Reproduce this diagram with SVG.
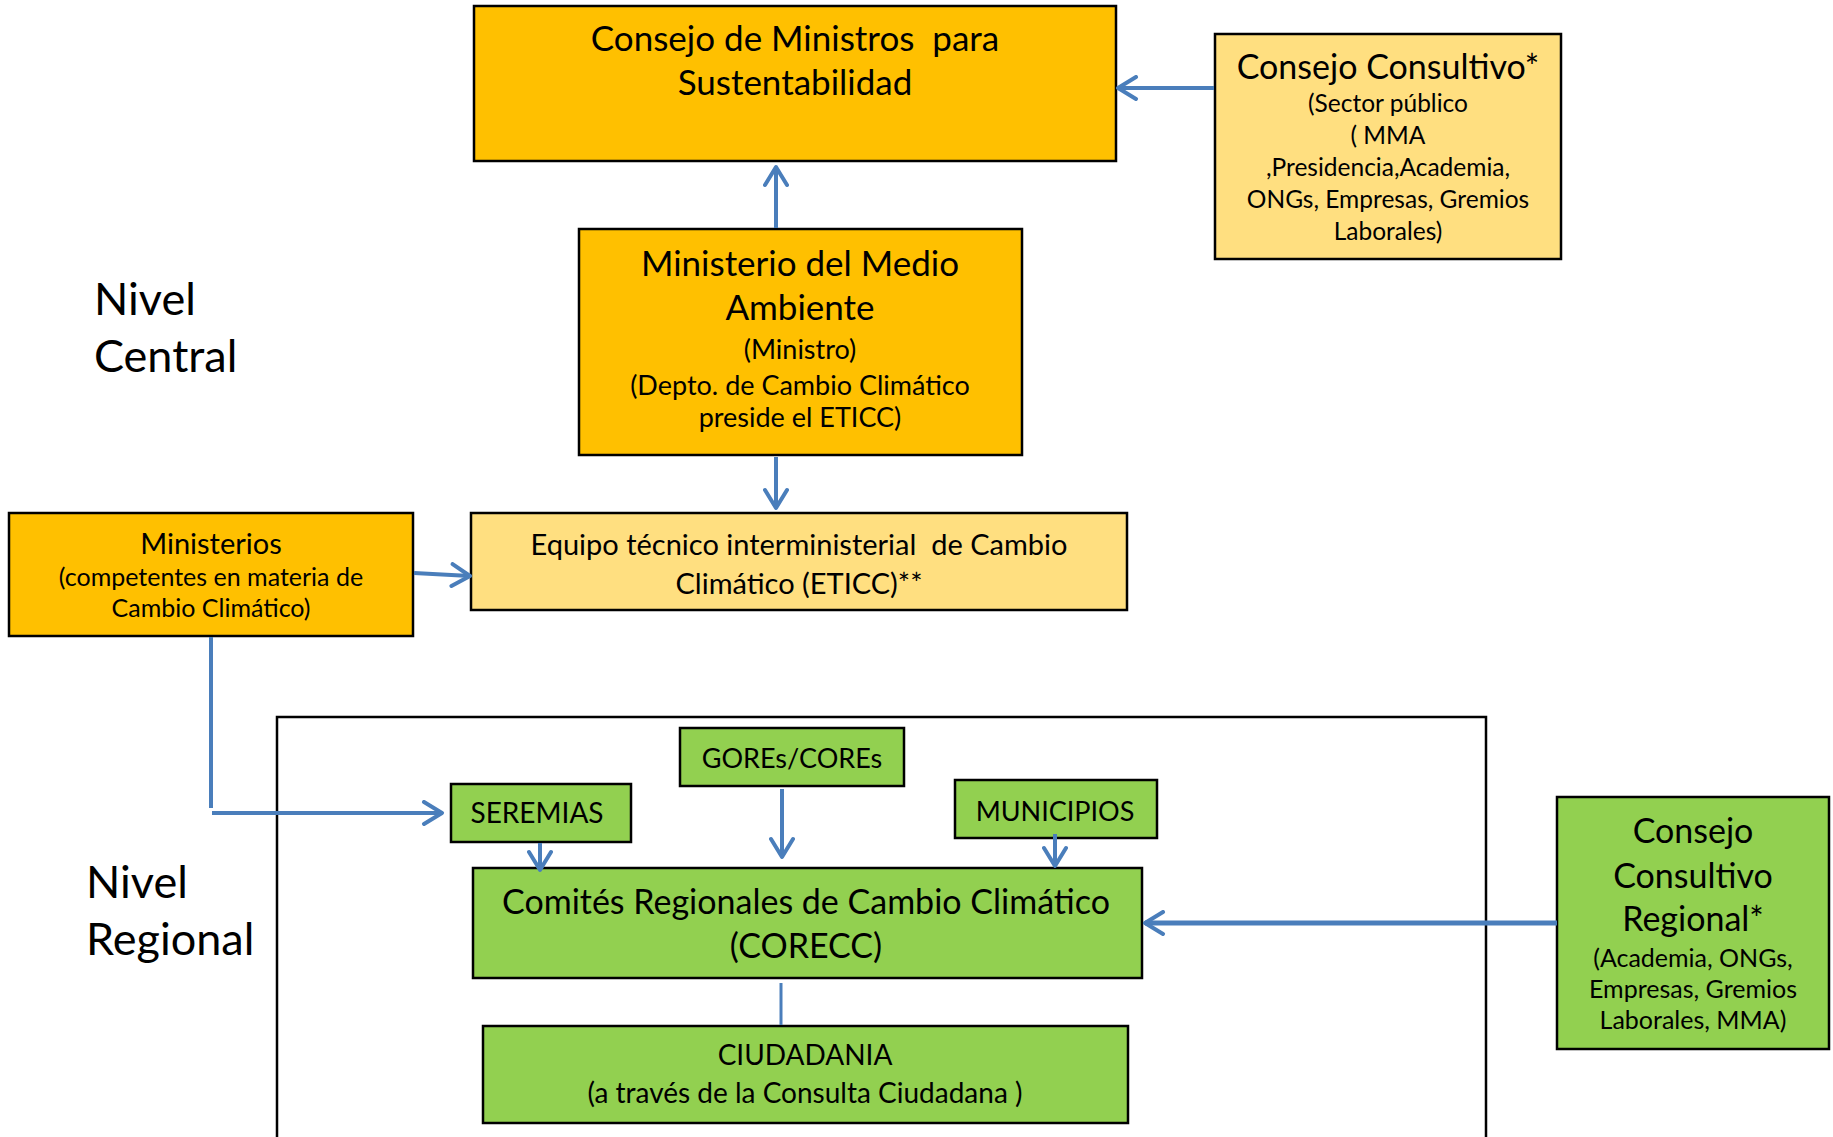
<svg xmlns="http://www.w3.org/2000/svg" width="1833" height="1137" viewBox="0 0 1833 1137" xml:space="preserve">
<style>
text{font-family:Lato,"Open Sans","Liberation Sans",sans-serif;fill:#000;white-space:pre}
.c{text-anchor:middle}
.box{stroke:#000;stroke-width:2.5}
.org{fill:#FFC000}
.lt{fill:#FFDF80}
.grn{fill:#92D050}
.t35{font-size:35px}
.t34{font-size:34px}
.t29{font-size:29px}
.t28{font-size:28px}
.t27{font-size:27px}
.t25{font-size:25px}
.t24{font-size:24.5px}
.t45{font-size:45px}
.con{stroke:#4A7EBB;stroke-width:4;fill:none}
</style>
<defs>
<marker id="ah" markerUnits="userSpaceOnUse" viewBox="0 0 24 26" refX="21" refY="13" markerWidth="24" markerHeight="26" orient="auto">
<path d="M3,2 L21,13 L3,24" fill="none" stroke="#4A7EBB" stroke-width="4" stroke-linecap="round" stroke-linejoin="round"/>
</marker>
</defs>
<g id="nivel-central"><text class="t45" x="94" y="315">Nivel</text><text class="t45" x="94" y="372">Central</text></g>
<g id="nivel-regional"><text class="t45" x="86" y="898">Nivel</text><text class="t45" x="86" y="955">Regional</text></g>
<g id="region-frame"><path d="M277,1137 V717 H1486 V1137" fill="none" stroke="#000" stroke-width="2.5"/></g>
<g id="consejo-ministros">
<rect class="box org" x="474" y="6" width="642" height="155"/>
<text class="c t35" x="795" y="51">Consejo de Ministros  para</text>
<text class="c t35" x="795" y="95">Sustentabilidad</text>
</g>
<g id="consejo-consultivo">
<rect class="box lt" x="1215" y="34" width="346" height="225"/>
<text class="c t34" x="1388" y="79">Consejo Consultivo*</text>
<text class="c t24" x="1388" y="112">(Sector público</text>
<text class="c t24" x="1388" y="144">( MMA</text>
<text class="c t24" x="1388" y="176">,Presidencia,Academia,</text>
<text class="c t24" x="1388" y="208">ONGs, Empresas, Gremios</text>
<text class="c t24" x="1388" y="240">Laborales)</text>
</g>
<g id="mma">
<rect class="box org" x="579" y="229" width="443" height="226"/>
<text class="c t35" x="800" y="276">Ministerio del Medio</text>
<text class="c t35" x="800" y="320">Ambiente</text>
<text class="c t27" x="800" y="359">(Ministro)</text>
<text class="c t27" x="800" y="395">(Depto. de Cambio Climático</text>
<text class="c t27" x="800" y="427">preside el ETICC)</text>
</g>
<g id="ministerios">
<rect class="box org" x="9" y="513" width="404" height="123"/>
<text class="c t29" x="211" y="554">Ministerios</text>
<text class="c t25" x="211" y="586">(competentes en materia de</text>
<text class="c t25" x="211" y="617">Cambio Climático)</text>
</g>
<g id="eticc">
<rect class="box lt" x="471" y="513" width="656" height="97"/>
<text class="c t29" x="799" y="555">Equipo técnico interministerial  de Cambio</text>
<text class="c t29" x="799" y="594">Climático (ETICC)**</text>
</g>
<g id="gores">
<rect class="box grn" x="680" y="728" width="224" height="58"/>
<text class="c t27" x="792" y="768">GOREs/COREs</text>
</g>
<g id="seremias">
<rect class="box grn" x="451" y="784" width="180" height="58"/>
<text class="c t28" x="537" y="823">SEREMIAS</text>
</g>
<g id="municipios">
<rect class="box grn" x="955" y="780" width="202" height="58"/>
<text class="c t27" x="1055" y="821">MUNICIPIOS</text>
</g>
<g id="corecc">
<rect class="box grn" x="473" y="868" width="669" height="110"/>
<text class="c t34" x="806" y="914">Comités Regionales de Cambio Climático</text>
<text class="c t34" x="806" y="958">(CORECC)</text>
</g>
<g id="ciudadania">
<rect class="box grn" x="483" y="1026" width="645" height="97"/>
<text class="c t28" x="805" y="1065">CIUDADANIA</text>
<text class="c t28" x="805" y="1103">(a través de la Consulta Ciudadana )</text>
</g>
<g id="consejo-consultivo-regional">
<rect class="box grn" x="1557" y="797" width="272" height="252"/>
<text class="c t34" x="1693" y="843">Consejo</text>
<text class="c t34" x="1693" y="888">Consultivo</text>
<text class="c t34" x="1693" y="931">Regional*</text>
<text class="c t25" x="1693" y="967">(Academia, ONGs,</text>
<text class="c t25" x="1693" y="998">Empresas, Gremios</text>
<text class="c t25" x="1693" y="1029">Laborales, MMA)</text>
</g>
<g id="connectors">
<path class="con" d="M1214,88 H1118" marker-end="url(#ah)"/>
<path class="con" d="M776,228 V167" marker-end="url(#ah)"/>
<path class="con" d="M776,457 V508" marker-end="url(#ah)"/>
<path class="con" d="M414,573 L470,576" marker-end="url(#ah)"/>
<path class="con" d="M211,637 V808"/>
<path class="con" d="M212,813 H442" marker-end="url(#ah)"/>
<path class="con" d="M540,843 V870" marker-end="url(#ah)"/>
<path class="con" d="M782,789 V857" marker-end="url(#ah)"/>
<path class="con" d="M1055,834 V866" marker-end="url(#ah)"/>
<path class="con" d="M1557,923 H1145" marker-end="url(#ah)" style="stroke-width:5"/>
<path class="con" d="M781,983 V1025" style="stroke-width:3"/>
</g>
</svg>
